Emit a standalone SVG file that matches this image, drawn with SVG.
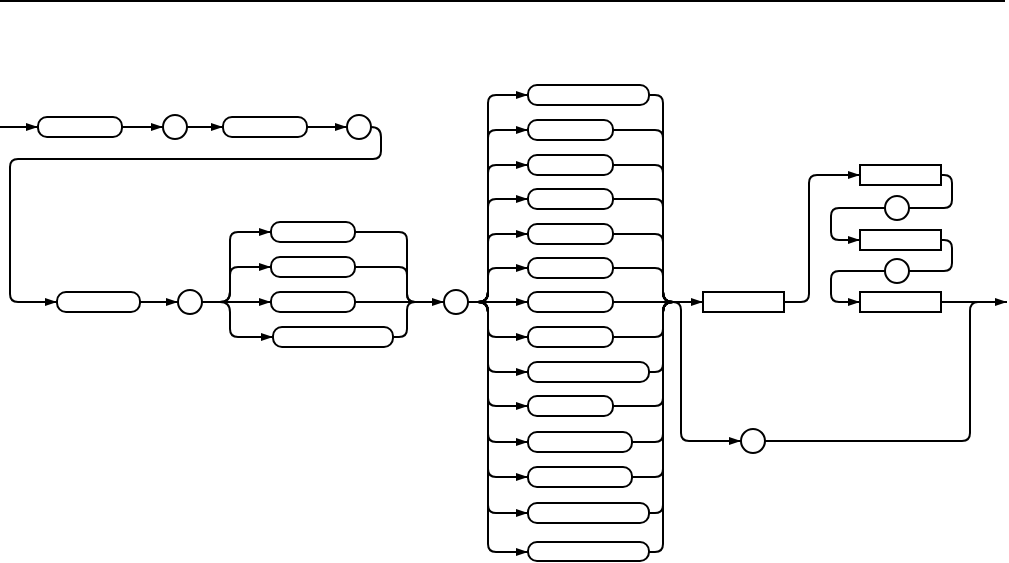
<svg xmlns="http://www.w3.org/2000/svg" width="1009" height="563" viewBox="0 0 1009 563">
<style>
.n{fill:#fff;stroke:#000;stroke-width:2}
.c{fill:none;stroke:#000;stroke-width:2}
.a{marker-end:url(#ah)}
</style>
<defs>
<marker id="ah" markerUnits="userSpaceOnUse" markerWidth="13" markerHeight="8" refX="12" refY="4" orient="auto">
<path d="M0,0 L12,4 L0,8 z" fill="#000"/>
</marker>
</defs>
<rect width="1009" height="563" fill="#fff"/>
<line x1="0" y1="1" x2="1005" y2="1" stroke="#000" stroke-width="2"/>
<g id="connectors">
<path class="c a" d="M0,127 H38"/>
<path class="c a" d="M122,127 H163"/>
<path class="c a" d="M187,127 H223"/>
<path class="c a" d="M307,127 H347"/>
<path class="c a" d="M371,127 Q381,127 381,137 V151 Q381,159 373,159 H18 Q10,159 10,167 V294 Q10,302 18,302 H57"/>
<path class="c a" d="M140,302 H178"/>
<path class="c a" d="M220,302 Q230,302 230,292 V240 Q230,232 238,232 H271"/>
<path class="c a" d="M220,302 Q230,302 230,292 V275 Q230,267 238,267 H271"/>
<path class="c a" d="M202,302 H271"/>
<path class="c a" d="M220,302 Q230,302 230,312 V329 Q230,337 238,337 H273"/>
<path class="c" d="M355,232 H399 Q407,232 407,240 V294 Q407,302 415,302"/>
<path class="c" d="M355,267 H399 Q407,267 407,275 V294 Q407,302 415,302"/>
<path class="c a" d="M355,302 H444"/>
<path class="c" d="M393,337 H399 Q407,337 407,329 V310 Q407,302 415,302"/>
<path class="c a" d="M478,302 Q488,302 488,292 V103 Q488,95 496,95 H528"/>
<path class="c a" d="M478,302 Q488,302 488,292 V138 Q488,130 496,130 H528"/>
<path class="c a" d="M478,302 Q488,302 488,292 V173 Q488,165 496,165 H528"/>
<path class="c a" d="M478,302 Q488,302 488,292 V207 Q488,199 496,199 H528"/>
<path class="c a" d="M478,302 Q488,302 488,292 V242 Q488,234 496,234 H528"/>
<path class="c a" d="M478,302 Q488,302 488,292 V276 Q488,268 496,268 H528"/>
<path class="c a" d="M468,302 H528"/>
<path class="c a" d="M478,302 Q488,302 488,312 V329 Q488,337 496,337 H528"/>
<path class="c a" d="M478,302 Q488,302 488,312 V364 Q488,372 496,372 H528"/>
<path class="c a" d="M478,302 Q488,302 488,312 V398 Q488,406 496,406 H528"/>
<path class="c a" d="M478,302 Q488,302 488,312 V434 Q488,442 496,442 H528"/>
<path class="c a" d="M478,302 Q488,302 488,312 V469 Q488,477 496,477 H528"/>
<path class="c a" d="M478,302 Q488,302 488,312 V505 Q488,513 496,513 H528"/>
<path class="c a" d="M478,302 Q488,302 488,312 V544 Q488,552 496,552 H528"/>
<path class="c" d="M649,95 H655 Q663,95 663,103 V292 Q663,302 673,302"/>
<path class="c" d="M613,130 H655 Q663,130 663,138 V292 Q663,302 673,302"/>
<path class="c" d="M613,165 H655 Q663,165 663,173 V292 Q663,302 673,302"/>
<path class="c" d="M613,199 H655 Q663,199 663,207 V292 Q663,302 673,302"/>
<path class="c" d="M613,234 H655 Q663,234 663,242 V292 Q663,302 673,302"/>
<path class="c" d="M613,268 H655 Q663,268 663,276 V292 Q663,302 673,302"/>
<path class="c a" d="M613,302 H703"/>
<path class="c" d="M613,337 H655 Q663,337 663,329 V312 Q663,302 673,302"/>
<path class="c" d="M649,372 H655 Q663,372 663,364 V312 Q663,302 673,302"/>
<path class="c" d="M613,406 H655 Q663,406 663,398 V312 Q663,302 673,302"/>
<path class="c" d="M632,442 H655 Q663,442 663,434 V312 Q663,302 673,302"/>
<path class="c" d="M632,477 H655 Q663,477 663,469 V312 Q663,302 673,302"/>
<path class="c" d="M649,513 H655 Q663,513 663,505 V312 Q663,302 673,302"/>
<path class="c" d="M649,552 H655 Q663,552 663,544 V312 Q663,302 673,302"/>
<path class="c a" d="M673,302 Q681,302 681,310 V433 Q681,441 689,441 H741"/>
<path class="c" d="M765,441 H962 Q970,441 970,433 V311 Q970,302 978,302"/>
<path class="c a" d="M784,302 H801 Q809,302 809,294 V183 Q809,175 817,175 H860"/>
<path class="c" d="M941,175 H944 Q952,175 952,183 V200 Q952,208 944,208 H909"/>
<path class="c a" d="M885,208 H839 Q831,208 831,216 V232 Q831,240 839,240 H860"/>
<path class="c" d="M941,240 H944 Q952,240 952,248 V263 Q952,271 944,271 H909"/>
<path class="c a" d="M885,271 H839 Q831,271 831,279 V294 Q831,302 839,302 H860"/>
<path class="c a" d="M941,302 H1007"/>
</g>
<g id="n1"><rect class="n" x="38" y="117" width="84" height="20" rx="9"/></g>
<g id="n2"><circle class="n" cx="175" cy="127" r="12"/></g>
<g id="n3"><rect class="n" x="223" y="117" width="84" height="20" rx="9"/></g>
<g id="n4"><circle class="n" cx="359" cy="127" r="12"/></g>
<g id="n5"><rect class="n" x="57" y="292" width="83" height="20" rx="9"/></g>
<g id="n6"><circle class="n" cx="190" cy="302" r="12"/></g>
<g id="n7"><rect class="n" x="271" y="222" width="84" height="20" rx="9"/></g>
<g id="n8"><rect class="n" x="271" y="257" width="84" height="20" rx="9"/></g>
<g id="n9"><rect class="n" x="271" y="292" width="84" height="20" rx="9"/></g>
<g id="n10"><rect class="n" x="273" y="327" width="120" height="20" rx="9"/></g>
<g id="n11"><circle class="n" cx="456" cy="302" r="12"/></g>
<g id="m1"><rect class="n" x="528" y="85" width="121" height="20" rx="9"/></g>
<g id="m2"><rect class="n" x="528" y="120" width="85" height="20" rx="9"/></g>
<g id="m3"><rect class="n" x="528" y="155" width="85" height="20" rx="9"/></g>
<g id="m4"><rect class="n" x="528" y="189" width="85" height="20" rx="9"/></g>
<g id="m5"><rect class="n" x="528" y="224" width="85" height="20" rx="9"/></g>
<g id="m6"><rect class="n" x="528" y="258" width="85" height="20" rx="9"/></g>
<g id="m7"><rect class="n" x="528" y="292" width="85" height="20" rx="9"/></g>
<g id="m8"><rect class="n" x="528" y="327" width="85" height="20" rx="9"/></g>
<g id="m9"><rect class="n" x="528" y="362" width="121" height="20" rx="9"/></g>
<g id="m10"><rect class="n" x="528" y="396" width="85" height="20" rx="9"/></g>
<g id="m11"><rect class="n" x="528" y="432" width="104" height="20" rx="9"/></g>
<g id="m12"><rect class="n" x="528" y="467" width="104" height="20" rx="9"/></g>
<g id="m13"><rect class="n" x="528" y="503" width="121" height="20" rx="9"/></g>
<g id="m14"><rect class="n" x="528" y="542" width="121" height="19" rx="9"/></g>
<g id="r1"><rect class="n" x="703" y="292" width="81" height="20"/></g>
<g id="r2"><rect class="n" x="860" y="165" width="81" height="20"/></g>
<g id="r3"><circle class="n" cx="897" cy="208" r="12"/></g>
<g id="r4"><rect class="n" x="860" y="230" width="81" height="20"/></g>
<g id="r5"><circle class="n" cx="897" cy="271" r="12"/></g>
<g id="r6"><rect class="n" x="860" y="292" width="81" height="20"/></g>
<g id="r7"><circle class="n" cx="753" cy="441" r="12"/></g>
</svg>
